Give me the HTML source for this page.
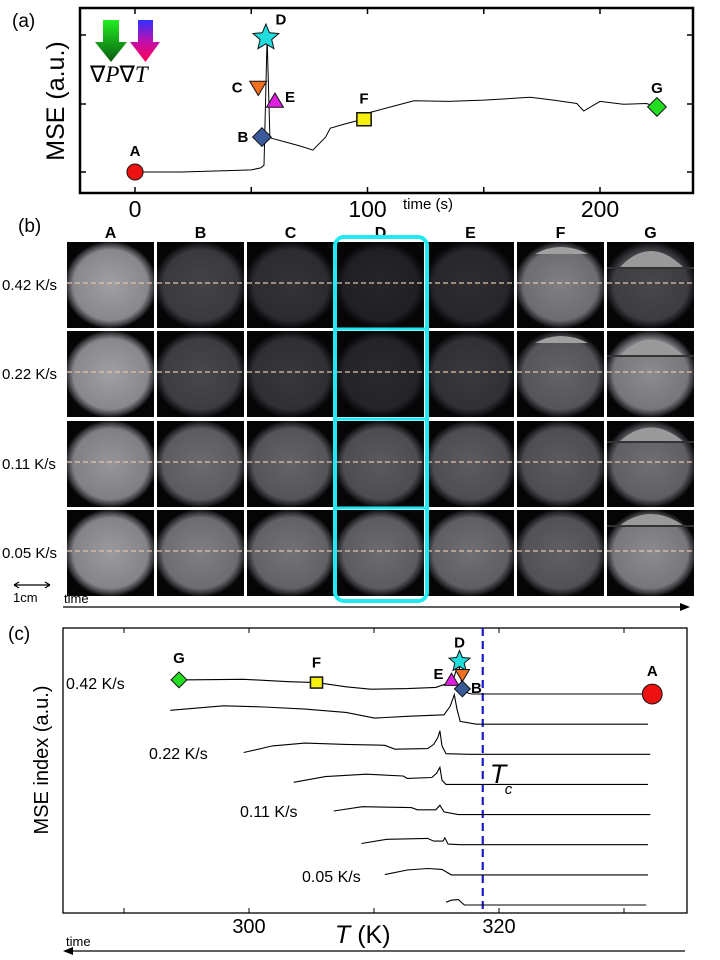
<!DOCTYPE html>
<html><head><meta charset="utf-8"><style>
html,body{margin:0;padding:0;background:#fff;}
svg{display:block;font-family:"Liberation Sans",sans-serif;}
</style></head><body>
<svg id="fig" width="720" height="960" viewBox="0 0 720 960" xmlns="http://www.w3.org/2000/svg">
<defs>
<linearGradient id="gP" x1="0" y1="0" x2="0" y2="1"><stop offset="0" stop-color="#22ee22"/><stop offset="1" stop-color="#0a5a10"/></linearGradient>
<linearGradient id="gT" x1="0" y1="0" x2="0" y2="1"><stop offset="0" stop-color="#3030ff"/><stop offset="0.5" stop-color="#c010b0"/><stop offset="1" stop-color="#ff0050"/></linearGradient>
<clipPath id="clipA"><rect x="80" y="8" width="613" height="185"/></clipPath>
</defs>
<g id="panelA"></g>
<g id="panelB"></g>
<g id="panelC"></g>
</svg>
<script>
// ---------- Panel (a) data ----------
const aTimes = [0, 20, 40, 50, 54, 55.5, 56.8, 58, 64.5, 71, 76.5, 82, 84, 90, 97, 100, 110, 120, 135, 150, 160, 170, 180, 190, 193, 200, 210, 220, 224.5];
const aMse   = [0, 0, 0.02, 0.03, 0.06, 0.1, 1.96, 0.5, 0.44, 0.38, 0.32, 0.51, 0.64, 0.7, 0.76, 0.86, 0.95, 1.04, 1.03, 1.05, 1.07, 1.09, 1.05, 1.0, 0.89, 1.03, 0.99, 1.0, 0.95];
const aMarkerLabels = ["A","B","C","D","E","F","G"];
const aMarkerTimes  = [0, 54.6, 53, 56.3, 60.2, 98.5, 224.5];
const aMarkerMse    = [0, 0.51, 1.23, 1.96, 1.04, 0.77, 0.95];
const aXTicks = [0, 100, 200];
// ---------- Panel (b) data ----------
const bRates = ["0.42 K/s","0.22 K/s","0.11 K/s","0.05 K/s"];
const bCols = ["A","B","C","D","E","F","G"];
const bBright = [
  [160, 68, 52, 38, 46, 128, 72],
  [160, 72, 56, 42, 58, 100, 140],
  [150, 108, 100, 90, 92, 92, 112],
  [155, 128, 115, 108, 112, 96, 140]
];
// ---------- Panel (c) data ----------
const cRates = ["0.42 K/s","0.22 K/s","0.11 K/s","0.05 K/s"];
const cLevels = [7,6,5,4,3,2,1,0];
const cT = [
 [294.36,299.58,303.18,305.43,307.76,309.72,312.66,314.94,315.92,316.42,316.74,316.9,317.07,317.56,317.89,331.92],
 [293.7,297.95,301.21,304.48,307.76,310.04,312.66,315.6,316.09,316.42,316.65,316.9,318.2,331.92],
 [299.58,301.87,304.48,307.76,310.86,311.68,314.29,314.78,315.11,315.27,315.44,315.76,317.56,332.1],
 [303.58,306.12,309.39,312.33,312.66,314.62,315.01,315.27,315.44,315.76,331.92],
 [306.78,309.06,312.98,313.47,314.94,315.27,315.6,316.74,332.1],
 [309.0,311.02,314.29,314.78,315.53,315.66,315.93,316.9,331.92],
 [310.86,312.66,314.29,315.44,316.18,331.92],
 [315.76,316.18,316.74,317.23,331.78]
];
const cV = [
 [0.47,0.49,0.41,0.38,0.24,0.16,0.18,0.22,0.36,0.58,1.02,0.69,0.19,0.02,0,0],
 [0.46,0.61,0.57,0.5,0.39,0.2,0.26,0.31,0.59,0.98,0.48,0.09,0,0],
 [0.06,0.28,0.37,0.33,0.3,0.17,0.19,0.33,0.56,0.78,0.28,0.02,0,0],
 [0.07,0.26,0.34,0.28,0.2,0.23,0.37,0.57,0.14,0,0],
 [0.12,0.26,0.23,0.16,0.16,0.31,0.09,0,0],
 [0.04,0.18,0.21,0.12,0.12,0.23,0.02,0,0],
 [0.01,0.16,0.21,0.18,0,0],
 [0.09,0.16,0.18,0,0]
];
const cMarkerLabels = ["G","F","E","D","C","B","A"];
const cMarkerT = [294.4, 305.4, 316.2, 316.84, 317.07, 317.07, 332.26];
const cMarkerV = [0.47, 0.38, 0.47, 1.08, 0.63, 0.17, 0];
const cXTicks = [290, 300, 310, 320, 330];
const cXTickLabels = ["", "300", "", "320", ""];
const cTc = 318.7;

const NS = "http://www.w3.org/2000/svg";
function mk(parent, tag, attrs, text) {
  const e = document.createElementNS(NS, tag);
  for (const k in attrs) e.setAttribute(k, attrs[k]);
  if (text !== undefined) e.textContent = text;
  parent.appendChild(e);
  return e;
}
const markerStyle = {
  A:{shape:"circle",fill:"#ee1111"}, B:{shape:"diamond",fill:"#3a5a9a"}, C:{shape:"down",fill:"#f07020"},
  D:{shape:"star",fill:"#22dddd"}, E:{shape:"up",fill:"#e020e0"}, F:{shape:"square",fill:"#f5f010"}, G:{shape:"diamond",fill:"#22dd22"}
};
function drawMarker(g, lab, x, y, s) {
  const st = markerStyle[lab];
  let el;
  if (st.shape === "circle") el = mk(g,"circle",{cx:x,cy:y,r:s*0.62,fill:st.fill,stroke:"#111","stroke-width":1});
  else if (st.shape === "diamond") el = mk(g,"polygon",{points:`${x},${y-s*0.72} ${x+s*0.72},${y} ${x},${y+s*0.72} ${x-s*0.72},${y}`,fill:st.fill,stroke:"#111","stroke-width":1});
  else if (st.shape === "square") el = mk(g,"rect",{x:x-s*0.55,y:y-s*0.5,width:s*1.1,height:s,fill:st.fill,stroke:"#111","stroke-width":1.5});
  else if (st.shape === "down") el = mk(g,"polygon",{points:`${x-s*0.65},${y-s*0.5} ${x+s*0.65},${y-s*0.5} ${x},${y+s*0.6}`,fill:st.fill,stroke:"#111","stroke-width":1});
  else if (st.shape === "up") el = mk(g,"polygon",{points:`${x-s*0.65},${y+s*0.5} ${x+s*0.65},${y+s*0.5} ${x},${y-s*0.6}`,fill:st.fill,stroke:"#111","stroke-width":1});
  else {
    let p = [];
    for (let i=0;i<10;i++){const r=i%2?s*0.38:s*0.85;const a=-Math.PI/2+i*Math.PI/5;p.push((x+r*Math.cos(a)).toFixed(1)+","+(y+r*Math.sin(a)).toFixed(1));}
    el = mk(g,"polygon",{points:p.join(" "),fill:st.fill,stroke:"#111","stroke-width":1});
  }
  
  
  return el;
}

// ---------- draw panel (a) ----------
(function(){
  const g = document.getElementById("panelA");
  const xA = t => 135 + t * 2.325;
  const yA = v => 172 - v * 68.5;
  const lab = mk(g,"text",{x:12,y:27,"font-size":19},"(a)");
   
  const box = mk(g,"rect",{x:80,y:8,width:613,height:185,fill:"none",stroke:"#000","stroke-width":2.5});
   
  [35,104,172].forEach(y=>{
    const t1 = mk(g,"line",{x1:80,y1:y,x2:86,y2:y,stroke:"#000","stroke-width":1.5});
     
    const t2 = mk(g,"line",{x1:693,y1:y,x2:687,y2:y,stroke:"#000","stroke-width":1.5});
     
  });
  [0,50,100,150,200].forEach(t=>{
    const x = xA(t);
    const tk = mk(g,"line",{x1:x,y1:193,x2:x,y2:187,stroke:"#000","stroke-width":1.5});
     
    const tk2 = mk(g,"line",{x1:x,y1:8,x2:x,y2:14,stroke:"#000","stroke-width":1.5});
     
  });
  aXTicks.forEach(t=>{
    const tl = mk(g,"text",{x:xA(t),y:217,"font-size":23,"text-anchor":"middle"},String(t));
     
  });
  const xt = mk(g,"text",{x:403,y:209,"font-size":15},"time (s)");
   
  const yt = mk(g,"text",{x:0,y:0,"font-size":25,"text-anchor":"middle",transform:"translate(64,101) rotate(-90)"},"MSE (a.u.)");
   
  const arrP = mk(g,"polygon",{points:"103,20 119,20 119,42 127,42 111,62 95,42 103,42",fill:"url(#gP)"});
   
  const arrT = mk(g,"polygon",{points:"138,20 153,20 153,42 160,42 145.5,62 130,42 138,42",fill:"url(#gT)"});
   
  const gp = mk(g,"text",{x:90,y:82,"font-size":23,"font-family":"Liberation Serif, serif"});
  gp.innerHTML = '∇<tspan font-style="italic">P</tspan>∇<tspan font-style="italic">T</tspan>';
   
  const pts = aTimes.map((t,i)=>xA(t).toFixed(1)+","+yA(aMse[i]).toFixed(1)).join(" ");
  const line = mk(g,"polyline",{points:pts,fill:"none",stroke:"#000","stroke-width":1,"clip-path":"url(#clipA)"});
   
  const lblOff = {A:[0,-16],B:[-19,5],C:[-21,5],D:[15,-13],E:[15,1],F:[0,-16],G:[0,-14]};
  aMarkerLabels.forEach((L,i)=>{
    const x=xA(aMarkerTimes[i]), y=yA(aMarkerMse[i]);
    drawMarker(g,L,x,y,L==="D"?16:13);
    const t = mk(g,"text",{x:x+lblOff[L][0],y:y+lblOff[L][1],"font-size":15,"font-weight":"bold","text-anchor":"middle"},L);
     
  });
})();

// ---------- draw panel (b) ----------
(function(){
  const g = document.getElementById("panelB");
  const defs = document.querySelector("defs");
  const colX = [67,157,247,337,427,517,607];
  const rowY = [242,331,421,510];
  const tw = 87, th = 86;
  const lab = mk(g,"text",{x:18,y:232,"font-size":19},"(b)");
   
  bCols.forEach((c,j)=>{
    const t = mk(g,"text",{x:colX[j]+tw/2,y:238,"font-size":16,"font-weight":"bold","text-anchor":"middle"},c);
     
  });
  const gLines = [26,25,21,16];
  bRates.forEach((r,i)=>{
    const rl = mk(g,"text",{x:2,y:rowY[i]+th/2+5,"font-size":15},r);
     
    bCols.forEach((c,j)=>{
      const b = bBright[i][j];
      const id = "tg"+i+"_"+j;
      const cid = "tc"+i+"_"+j;
      const x = colX[j], y = rowY[i];
      const cp = mk(defs,"clipPath",{id:cid});
      mk(cp,"rect",{x:x,y:y,width:tw,height:th});
      const rg = mk(defs,"radialGradient",{id:id,cx:"0.5",cy:"0.5",r:"0.5"});
      const col = v => `rgb(${v},${v},${Math.min(255,v+4)})`;
      mk(rg,"stop",{offset:"0","stop-color":col(b)});
      mk(rg,"stop",{offset:"0.8","stop-color":col(Math.round(b*0.85))});
      mk(rg,"stop",{offset:"0.93","stop-color":col(Math.round(b*0.35))});
      mk(rg,"stop",{offset:"1","stop-color":"#050505"});
      const tg = mk(g,"g",{"clip-path":"url(#"+cid+")"});
      
      
      mk(tg,"rect",{x:x,y:y,width:tw,height:th,fill:"#060606"});
      mk(tg,"rect",{x:x-3,y:y-1,width:tw+6,height:th+2,fill:"url(#"+id+")"});
      if (c==="G") {
        const ly = y + gLines[i];
        mk(tg,"path",{d:`M${x+12},${ly} Q${x+tw/2},${y-8} ${x+tw-10},${ly} Z`,fill:"#999"});
        mk(tg,"line",{x1:x,y1:ly,x2:x+tw,y2:ly,stroke:"#333","stroke-width":2});
      }
      if (c==="F" && i<2) {
        mk(tg,"path",{d:`M${x+18},${y+12} Q${x+tw/2},${y-2} ${x+tw-16},${y+12} Z`,fill:"#a0a0a0"});
      }
      const dl = mk(g,"line",{x1:x,y1:y+th/2-2,x2:x+tw,y2:y+th/2-2,stroke:"#e0c4b0","stroke-width":1.2,"stroke-dasharray":"5,3"});
       
    });
  });
  const hb = mk(g,"rect",{x:335,y:237,width:92,height:364,rx:9,fill:"none",stroke:"#22e8f2","stroke-width":4});
   
  [329,419,508].forEach(y=>{
    const l = mk(g,"line",{x1:335,y1:y,x2:427,y2:y,stroke:"#22e8f2","stroke-width":3});
     
  });
  const sb = mk(g,"path",{d:"M14,585 L50,585 M14,585 l5,-3 M14,585 l5,3 M50,585 l-5,-3 M50,585 l-5,3",stroke:"#000","stroke-width":1.3,fill:"none"});
   
  const st = mk(g,"text",{x:13,y:602,"font-size":13},"1cm");
   
  const ta = mk(g,"line",{x1:63,y1:607,x2:682,y2:607,stroke:"#000","stroke-width":1.3});
   
  const th2 = mk(g,"polygon",{points:"690,607 680,603 680,611",fill:"#000"});
   
  const tt = mk(g,"text",{x:64,y:603,"font-size":13},"time");
   
})();

// ---------- draw panel (c) ----------
(function(){
  const g = document.getElementById("panelC");
  const xC = T => 249 + (T - 300) * 12.5;
  const yC = v => 905 - v * 30.14;
  const lab = mk(g,"text",{x:8,y:640,"font-size":19},"(c)");
   
  const box = mk(g,"rect",{x:63,y:628,width:624,height:285,fill:"none",stroke:"#000","stroke-width":1.3});
   
  cXTicks.forEach((T,i)=>{
    const x = xC(T);
    const t1 = mk(g,"line",{x1:x,y1:913,x2:x,y2:908,stroke:"#000","stroke-width":1});
     
    const t2 = mk(g,"line",{x1:x,y1:628,x2:x,y2:633,stroke:"#000","stroke-width":1});
     
    if (cXTickLabels[i]) {
      const tl = mk(g,"text",{x:x,y:933,"font-size":20,"text-anchor":"middle"},cXTickLabels[i]);
       
    }
  });
  const xt = mk(g,"text",{x:335,y:943,"font-size":25});
  xt.innerHTML = '<tspan font-style="italic">T</tspan> (K)';
   
  const yt = mk(g,"text",{x:0,y:0,"font-size":20,"text-anchor":"middle",transform:"translate(48,760) rotate(-90)"},"MSE index (a.u.)");
   
  const tc = mk(g,"line",{x1:xC(cTc),y1:628,x2:xC(cTc),y2:913,stroke:"#1a1acc","stroke-width":2.2,"stroke-dasharray":"8,5"});
   
  const tct = mk(g,"text",{x:xC(cTc)+7,y:783,"font-size":27,"font-style":"italic"},"T");
   
  const tcs = mk(g,"text",{x:xC(cTc)+22,y:794,"font-size":15,"font-style":"italic"},"c");
   
  cT.forEach((arr,k)=>{
    const base = cLevels[k];
    const pts = arr.map((T,i)=>xC(T).toFixed(1)+","+yC(base+cV[k][i]).toFixed(1)).join(" ");
    const pl = mk(g,"polyline",{points:pts,fill:"none",stroke:"#000","stroke-width":1.1});
     
  });
  const rateLabelPos = [[66,689],[149,759],[240,817],[302,882]];
  cRates.forEach((r,i)=>{
    const t = mk(g,"text",{x:rateLabelPos[i][0],y:rateLabelPos[i][1],"font-size":16},r);
     
  });
  const dx = xC(cMarkerT[3]);
  const con = mk(g,"line",{x1:dx,y1:yC(7+cMarkerV[3]),x2:dx,y2:yC(7+0.6),stroke:"#000","stroke-width":1});
   
  const lblOff = {G:[0,-17],F:[0,-15],E:[-13,-1],D:[0,-14],C:[0,0],B:[14,4],A:[0,-18]};
  cMarkerLabels.forEach((L,i)=>{
    const x = xC(cMarkerT[i]), y = yC(7+cMarkerV[i]);
    drawMarker(g,L,x,y,L==="A"?16:(L==="D"?13:11));
    if (L!=="C") {
      const t = mk(g,"text",{x:x+lblOff[L][0],y:y+lblOff[L][1],"font-size":15,"font-weight":"bold","text-anchor":"middle"},L);
       
    }
  });
  const ta = mk(g,"line",{x1:72,y1:951,x2:685,y2:951,stroke:"#000","stroke-width":1.3});
   
  const ah = mk(g,"polygon",{points:"63,951 73,947 73,955",fill:"#000"});
   
  const tt = mk(g,"text",{x:66,y:946,"font-size":13},"time");
   
})();
</script>
</body></html>
